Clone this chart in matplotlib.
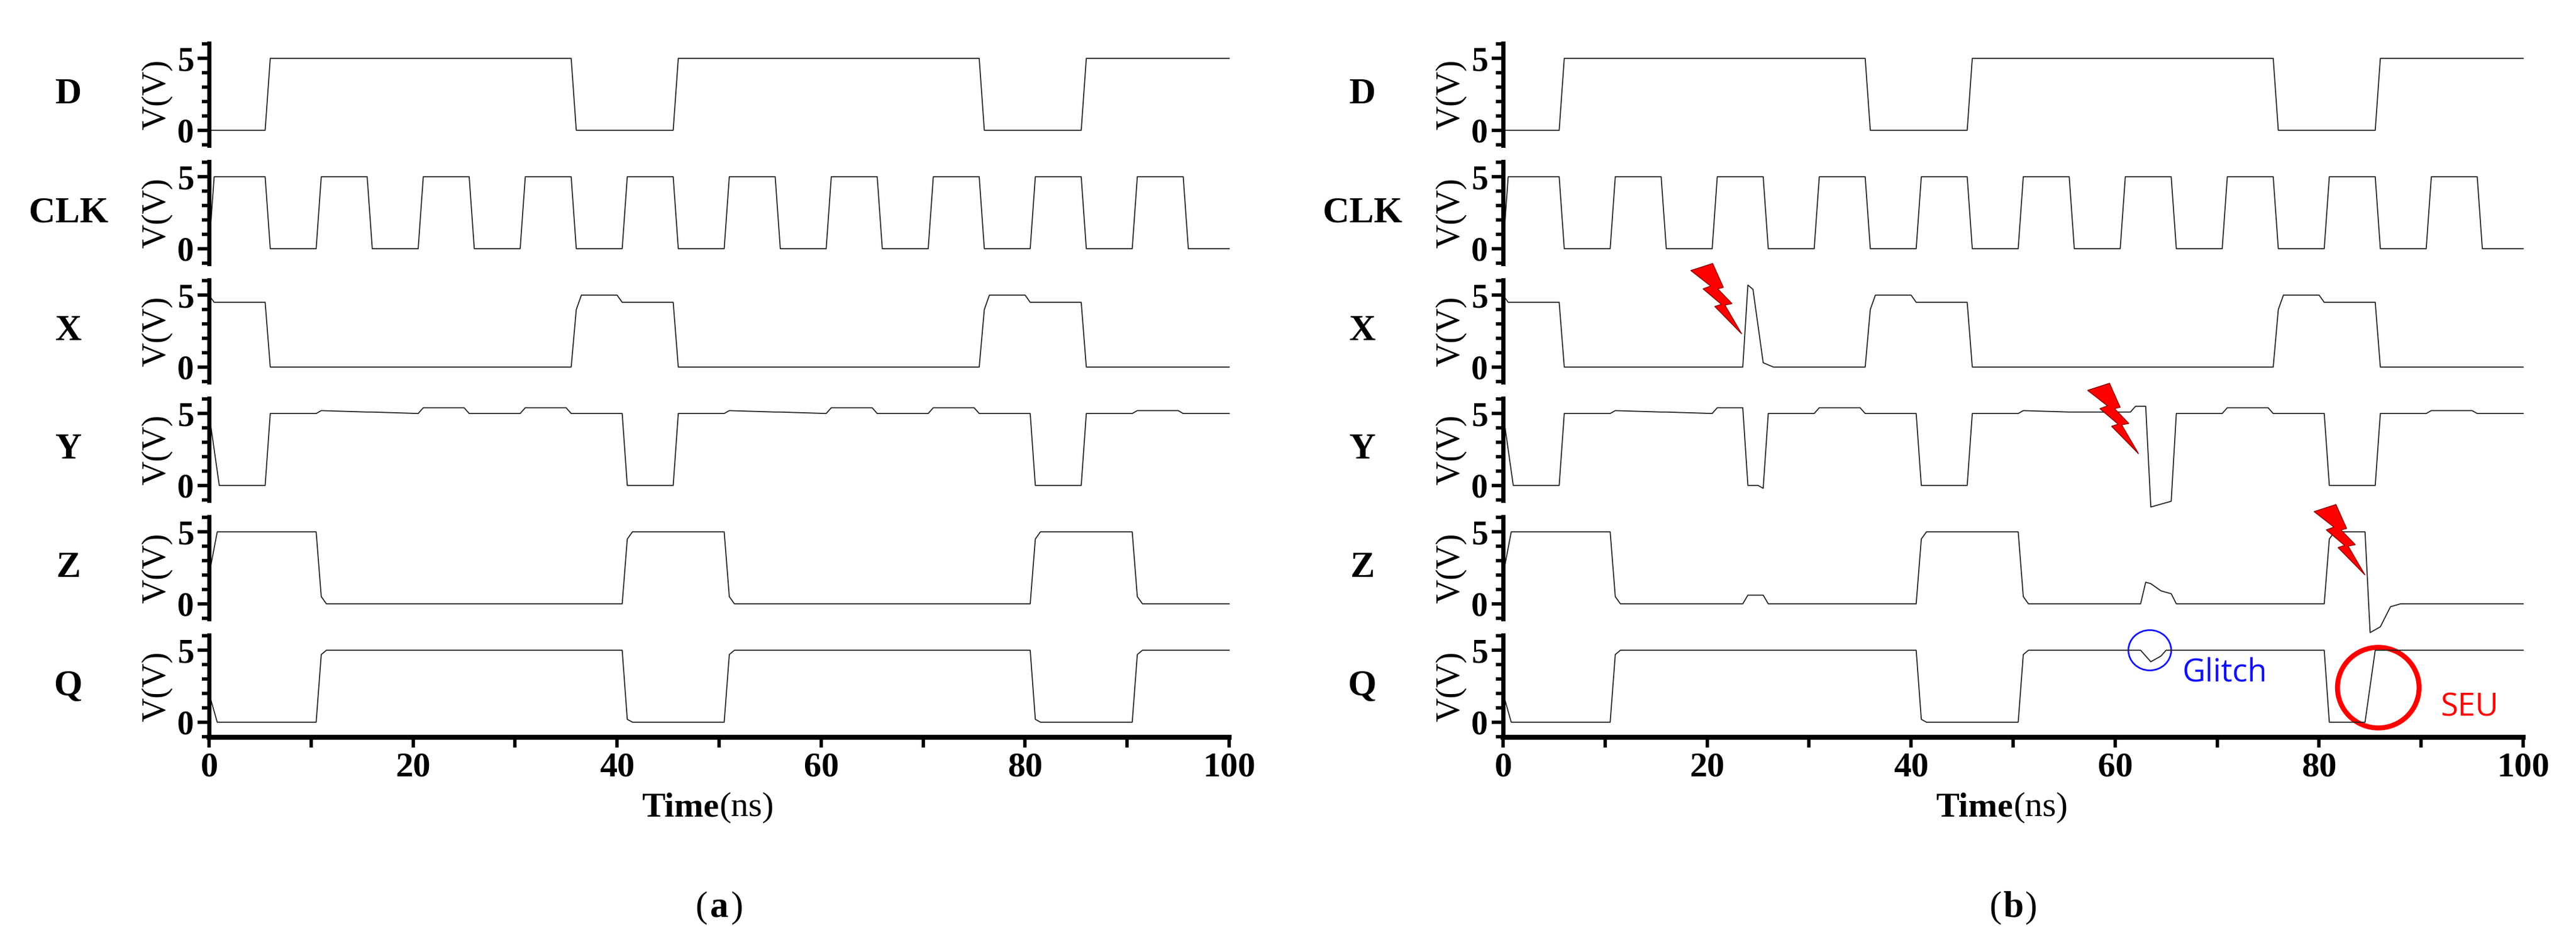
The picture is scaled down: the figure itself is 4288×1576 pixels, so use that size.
import numpy as np
import matplotlib.pyplot as plt
from matplotlib.patches import Polygon, Ellipse

# ---- waveform breakpoints (time ns, voltage V) ----
names = ["D", "CLK", "X", "Y", "Z", "Q"]

d_t = [0, 5.5, 6, 35.5, 36, 45.5, 46, 75.5, 76, 85.5, 86, 100]
d_v = [0, 0, 5, 5, 0, 0, 5, 5, 0, 0, 5, 5]

clk_t = [0, 0.5, 5.5, 6, 10.5, 11, 15.5, 16, 20.5, 21, 25.5, 26, 30.5, 31, 35.5, 36,
         40.5, 41, 45.5, 46, 50.5, 51, 55.5, 56, 60.5, 61, 65.5, 66, 70.5, 71, 75.5, 76,
         80.5, 81, 85.5, 86, 90.5, 91, 95.5, 96, 100]
clk_v = [0, 5, 5, 0, 0, 5, 5, 0, 0, 5, 5, 0, 0, 5, 5, 0,
         0, 5, 5, 0, 0, 5, 5, 0, 0, 5, 5, 0, 0, 5, 5, 0,
         0, 5, 5, 0, 0, 5, 5, 0, 0]

xa_t = [0, 0.5, 5.5, 6, 35.5, 36, 36.5, 40, 40.5, 45.5, 46, 75.5, 76, 76.5, 80, 80.5, 85.5, 86, 100]
xa_v = [5, 4.5, 4.5, 0, 0, 4, 5, 5, 4.5, 4.5, 0, 0, 4, 5, 5, 4.5, 4.5, 0, 0]

ya_t = [0, 1, 5.5, 6, 10.5, 11, 15.5, 16, 20.5, 21, 25, 25.5, 30.5, 31, 35, 35.5,
        40.5, 41, 45.5, 46, 50.5, 51, 55.5, 56, 60.5, 61, 65, 65.5, 70.5, 71, 75, 75.5,
        80.5, 81, 85.5, 86, 90.5, 91, 95, 95.5, 100]
ya_v = [5, 0, 0, 5, 5, 5.2, 5.1, 5.1, 5.0, 5.4, 5.4, 5.0, 5.0, 5.4, 5.4, 5.0,
        5, 0, 0, 5, 5, 5.2, 5.1, 5.1, 5.0, 5.4, 5.4, 5.0, 5.0, 5.4, 5.4, 5.0,
        5, 0, 0, 5, 5, 5.2, 5.2, 5.0, 5.0]

za_t = [0, 0.8, 10.5, 11, 11.5, 40.5, 41, 41.5, 50.5, 51, 51.5, 80.5, 81, 81.5, 90.5, 91, 91.5, 100]
za_v = [2, 5, 5, 0.5, 0, 0, 4.5, 5, 5, 0.5, 0, 0, 4.5, 5, 5, 0.5, 0, 0]

qa_t = [0, 0.8, 10.5, 11, 11.5, 40.5, 41, 41.5, 50.5, 51, 51.5, 80.5, 81, 81.5, 90.5, 91, 91.5, 100]
qa_v = [2, 0, 0, 4.7, 5, 5, 0.2, 0, 0, 4.7, 5, 5, 0.2, 0, 0, 4.7, 5, 5]

# panel (b): faulted waveforms
xb_t = [0, 0.5, 5.5, 6, 23.5, 24, 24.5, 25.5, 26.5, 35.5, 36, 36.5, 40, 40.5, 45.5, 46,
        75.5, 76, 76.5, 80, 80.5, 85.5, 86, 100]
xb_v = [5, 4.5, 4.5, 0, 0, 5.7, 5.4, 0.3, 0, 0, 4, 5, 5, 4.5, 4.5, 0,
        0, 4, 5, 5, 4.5, 4.5, 0, 0]

yb_t = [0, 1, 5.5, 6, 10.5, 11, 15.5, 16, 20.5, 21, 23.5, 24, 25, 25.5, 26, 30.5, 31, 35, 35.5,
        40.5, 41, 45.5, 46, 50.5, 51, 55.5, 56, 61.5, 62, 63, 63.5, 65.5, 66, 70.5, 71, 75, 75.5,
        80.5, 81, 85.5, 86, 90.5, 91, 95, 95.5, 100]
yb_v = [5, 0, 0, 5, 5, 5.2, 5.1, 5.1, 5.0, 5.4, 5.4, 0, 0, -0.2, 5.0, 5.0, 5.4, 5.4, 5.0,
        5, 0, 0, 5, 5, 5.2, 5.1, 5.1, 5.1, 5.5, 5.5, -1.5, -1.1, 5.0, 5.0, 5.4, 5.4, 5.0,
        5, 0, 0, 5, 5, 5.2, 5.2, 5.0, 5.0]

zb_t = [0, 0.8, 10.5, 11, 11.5, 23.5, 24, 25.5, 26, 40.5, 41, 41.5, 50.5, 51, 51.5,
        62.5, 63, 63.5, 64.5, 65.5, 66, 80.5, 81, 81.5, 84.5, 85, 86, 87, 88, 100]
zb_v = [2, 5, 5, 0.5, 0, 0, 0.6, 0.6, 0, 0, 4.5, 5, 5, 0.5, 0, 0,
        1.5, 1.4, 0.9, 0.7, 0, 0, 4.5, 5, 5, -2.0, -1.6, -0.2, 0, 0]

qb_t = [0, 0.8, 10.5, 11, 11.5, 40.5, 41, 41.5, 50.5, 51, 51.5, 62.5, 63.5, 64.5, 65, 80.5, 81,
        84.5, 85.5, 100]
qb_v = [2, 0, 0, 4.7, 5, 5, 0.2, 0, 0, 4.7, 5, 5, 4.2, 4.6, 5, 5, 0, 0, 5, 5]

panel_a = [(d_t, d_v), (clk_t, clk_v), (xa_t, xa_v), (ya_t, ya_v), (za_t, za_v), (qa_t, qa_v)]
panel_b = [(d_t, d_v), (clk_t, clk_v), (xb_t, xb_v), (yb_t, yb_v), (zb_t, zb_v), (qb_t, qb_v)]

# lightning bolts: (row, tip time, tip V) ; bolt shape normalised to its box
bolts = [(2, 23.4, 2.3), (3, 62.3, 2.2), (4, 84.5, 2.0)]
bolt_u = [0, 0.43, 0.64, 0.53, 0.81, 0.67, 1, 0.47, 0.6, 0.24, 0.39]
bolt_w = [0.9, 1, 0.66, 0.64, 0.43, 0.41, 0, 0.39, 0.42, 0.64, 0.68]

serif = "Liberation Serif"
W, H = 4288, 1576
fig = plt.figure(figsize=(W / 100, H / 100), dpi=100)

lefts = [348 / W, 2502 / W]
width = 1698 / W
ax_h = 170 / H
pitch = 197 / H
bottom0 = 1 - 1227 / H


def draw_panel(left, data, letter):
    axes = []
    for i, (t, v) in enumerate(data):
        ax = fig.add_axes([left, bottom0 + (5 - i) * pitch, width, ax_h])
        ax.plot(t, v, color="#222222", lw=1.3, clip_on=False)
        ax.set_xlim(0, 100)
        ax.set_ylim(-1.05, 6.05)
        for s in ["top", "right"]:
            ax.spines[s].set_visible(False)
        ax.spines["left"].set_linewidth(5)
        ax.set_yticks([0, 5])
        ax.set_yticks(np.arange(-1, 7), minor=True)
        ax.tick_params(axis="y", which="major", length=14, width=4, labelsize=40, pad=4)
        ax.tick_params(axis="y", which="minor", length=9, width=4)
        for lab in ax.get_yticklabels():
            lab.set_fontfamily(serif)
            lab.set_fontweight("bold")
        ax.set_ylabel("V(V)", fontsize=40, fontfamily=serif, labelpad=6)
        ax.text(-0.138, 0.5, names[i], transform=ax.transAxes, ha="center", va="center",
                fontsize=44, fontfamily=serif, fontweight="bold")
        if i < 5:
            ax.spines["bottom"].set_visible(False)
            ax.set_xticks([])
        else:
            ax.spines["bottom"].set_linewidth(6)
            ax.set_xticks(np.arange(0, 101, 20))
            ax.set_xticks(np.arange(0, 101, 10), minor=True)
            ax.tick_params(axis="x", which="both", length=12, width=4, labelsize=42, pad=6)
            for lab in ax.get_xticklabels():
                lab.set_fontfamily(serif)
                lab.set_fontweight("bold")
            ax.text(0.5, -0.69, "Time", transform=ax.transAxes, ha="right", va="center",
                    fontsize=42, fontfamily=serif, fontweight="bold")
            ax.text(0.5, -0.69, "(ns)", transform=ax.transAxes, ha="left", va="center",
                    fontsize=42, fontfamily=serif)
        axes.append(ax)
    cx, cy = left + width * 0.5, 1 - 1511 / H
    fig.text(cx, cy, letter, ha="center", va="center", fontsize=44, fontfamily=serif,
             fontweight="bold")
    fig.text(cx - 0.0045, cy, "(", ha="right", va="center", fontsize=44, fontfamily=serif)
    fig.text(cx + 0.0045, cy, ")", ha="left", va="center", fontsize=44, fontfamily=serif)
    return axes


draw_panel(lefts[0], panel_a, "a")
axes_b = draw_panel(lefts[1], panel_b, "b")

for row, tt, tv in bolts:
    ax = axes_b[row]
    pts = [(tt - 5.0 * (1 - u), tv + 4.9 * w) for u, w in zip(bolt_u, bolt_w)]
    ax.add_patch(Polygon(pts, closed=True, facecolor="#ff0000", edgecolor="#880000",
                         lw=1, clip_on=False, zorder=5))

axq = axes_b[5]
axq.add_patch(Ellipse((63.4, 5.0), 4.2, 2.8, fill=False, edgecolor="#1010ff", lw=2, clip_on=False))
axq.text(66.6, 3.4, "Glitch", color="#1010ff", fontsize=38, fontfamily="Open Sans",
         ha="left", va="center")
axq.add_patch(Ellipse((85.8, 2.4), 8.0, 5.6, fill=False, edgecolor="#ff0000", lw=6, clip_on=False))
axq.text(91.9, 1.0, "SEU", color="#ff0000", fontsize=38, fontfamily="Open Sans",
         ha="left", va="center")

fig.savefig("out.png", dpi=100)
